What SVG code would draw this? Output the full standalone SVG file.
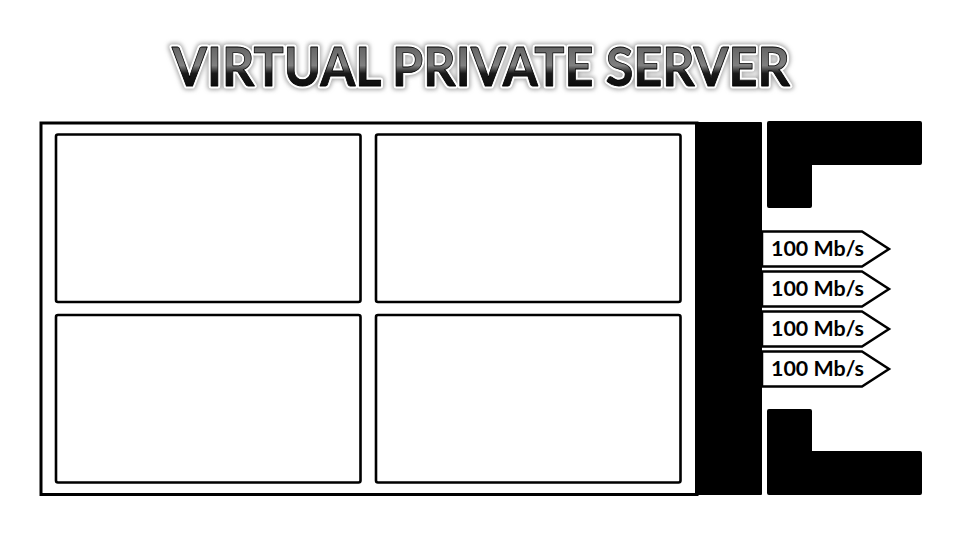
<svg xmlns="http://www.w3.org/2000/svg" width="960" height="540" viewBox="0 0 960 540">
  <defs>
    <linearGradient id="titleGrad" x1="0" y1="0" x2="0" y2="1">
      <stop offset="0" stop-color="#505050"/>
      <stop offset="0.5" stop-color="#808080"/>
      <stop offset="0.62" stop-color="#1a1a1a"/>
      <stop offset="1" stop-color="#000"/>
    </linearGradient>
    <filter id="glow" x="-10%" y="-30%" width="120%" height="160%">
      <feGaussianBlur stdDeviation="2"/>
    </filter>
    <style>
      .title { font-family: "Lato", "Open Sans", "Liberation Sans", sans-serif; font-weight: bold; font-size: 54px; }
      .vm { fill: #fff; stroke: #000; stroke-width: 2.6; }
      .blk { fill: #000; }
      .port polygon { fill: #fff; stroke: #000; stroke-width: 2.5; stroke-linejoin: miter; }
      .port text { font-family: "Lato", "Liberation Sans", sans-serif; font-weight: bold; font-size: 20px; fill: #000; }
    </style>
  </defs>
  <rect width="960" height="540" fill="#fff"/>

  <g id="title">
    <text class="title" x="172" y="86" textLength="618" lengthAdjust="spacingAndGlyphs" fill="none" stroke="#aaa" stroke-width="8" stroke-linejoin="round" filter="url(#glow)">VIRTUAL PRIVATE SERVER</text>
    <text class="title" x="172" y="86" textLength="618" lengthAdjust="spacingAndGlyphs" fill="none" stroke="#fff" stroke-width="5" stroke-linejoin="round">VIRTUAL PRIVATE SERVER</text>
    <text class="title" x="172" y="86" textLength="618" lengthAdjust="spacingAndGlyphs" fill="url(#titleGrad)" stroke="#000" stroke-width="0.8" stroke-linejoin="round">VIRTUAL PRIVATE SERVER</text>
  </g>

  <g id="server">
    <rect x="41" y="123" width="656" height="371.5" fill="#fff" stroke="#000" stroke-width="3"/>
  </g>
  <g id="vm1"><rect class="vm" x="56" y="134.5" width="304.5" height="167.5" rx="2"/></g>
  <g id="vm2"><rect class="vm" x="376" y="134.5" width="304.5" height="167.5" rx="2"/></g>
  <g id="vm3"><rect class="vm" x="56" y="315" width="304.5" height="167.5" rx="2"/></g>
  <g id="vm4"><rect class="vm" x="376" y="315" width="304.5" height="167.5" rx="2"/></g>

  <g id="bar"><rect class="blk" x="695" y="122" width="67" height="373" rx="1"/></g>

  <g id="bracket-top">
    <path class="blk" d="M769,121 H920 Q922,121 922,123 V163 Q922,165 920,165 H812 V206 Q812,208 810,208 H769 Q767,208 767,206 V123 Q767,121 769,121 Z"/>
  </g>
  <g id="bracket-bottom">
    <path class="blk" d="M769,409 H810 Q812,409 812,411 V451 H920 Q922,451 922,453 V493 Q922,495 920,495 H769 Q767,495 767,493 V411 Q767,409 769,409 Z"/>
  </g>

  <g id="port1" class="port">
    <polygon points="762,231.5 862,231.5 889,249 862,266.5 762,266.5"/>
    <text x="771" y="256" textLength="93" lengthAdjust="spacingAndGlyphs">100 Mb/s</text>
  </g>
  <g id="port2" class="port">
    <polygon points="762,271.5 862,271.5 889,289 862,306.5 762,306.5"/>
    <text x="771" y="296" textLength="93" lengthAdjust="spacingAndGlyphs">100 Mb/s</text>
  </g>
  <g id="port3" class="port">
    <polygon points="762,311.5 862,311.5 889,329 862,346.5 762,346.5"/>
    <text x="771" y="336" textLength="93" lengthAdjust="spacingAndGlyphs">100 Mb/s</text>
  </g>
  <g id="port4" class="port">
    <polygon points="762,351.5 862,351.5 889,369 862,386.5 762,386.5"/>
    <text x="771" y="376" textLength="93" lengthAdjust="spacingAndGlyphs">100 Mb/s</text>
  </g>
</svg>
